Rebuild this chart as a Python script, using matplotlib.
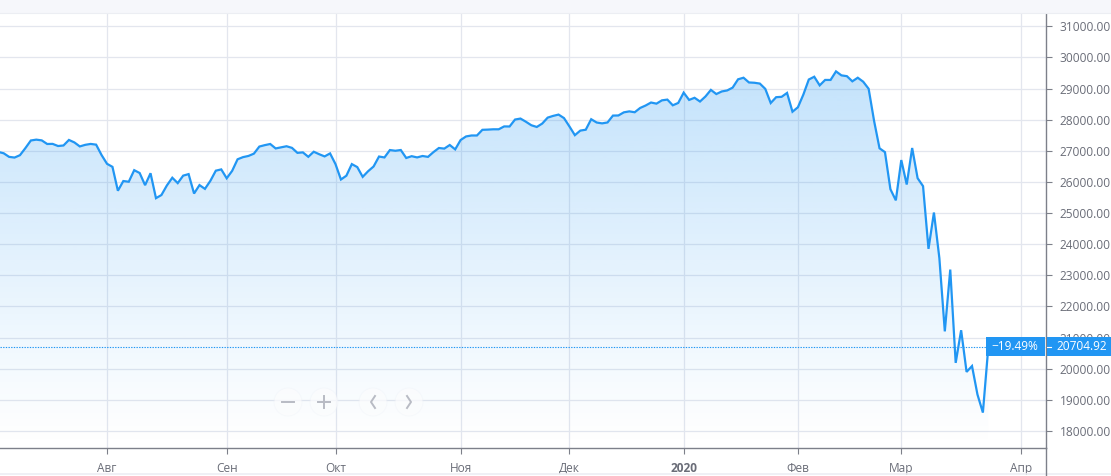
import numpy as np
import pandas as pd
import matplotlib
matplotlib.use('Agg')
import matplotlib.pyplot as plt
from matplotlib.patches import Circle, Rectangle
from matplotlib.transforms import blended_transform_factory

# daily closes, 2019-07-02 .. 2020-03-24
closes = [
    26786.68, 26966.00, 26922.12, 26806.14, 26783.49, 26860.20, 27088.08, 27332.03,
    27359.16, 27335.63, 27219.85, 27222.97, 27154.20, 27171.90, 27349.19, 27269.97,
    27140.98, 27192.45, 27221.35, 27198.02, 26864.27,
    # aug
    26583.42, 26485.01, 25717.74, 26029.52, 26007.07, 26378.19, 26287.44, 25896.44,
    26279.91, 25479.42, 25579.39, 25886.01, 26135.79, 25962.44, 26202.73, 26252.24,
    25628.90, 25898.83, 25777.90, 26036.10, 26362.25, 26403.28,
    # sep
    26118.02, 26355.47, 26728.15, 26797.46, 26835.51, 26909.43, 27137.04, 27182.45,
    27219.52, 27076.82, 27110.80, 27147.08, 27094.79, 26935.07, 26949.99, 26807.77,
    26970.71, 26891.12, 26820.25, 26916.83,
    # oct
    26573.04, 26078.62, 26201.04, 26573.72, 26478.02, 26164.04, 26346.01, 26496.67,
    26816.59, 26787.36, 27024.80, 27001.98, 27025.88, 26770.20, 26827.64, 26788.10,
    26833.95, 26805.53, 26958.06, 27090.72, 27071.42, 27186.69, 27046.23,
    # nov
    27347.36, 27462.11, 27492.63, 27492.56, 27674.80, 27681.24, 27691.49, 27691.49,
    27783.59, 27781.96, 28004.89, 28036.22, 27934.02, 27821.09, 27766.29, 27875.62,
    28066.47, 28121.68, 28164.00, 28051.41,
    # dec
    27783.04, 27502.81, 27649.78, 27677.79, 28015.06, 27909.60, 27881.72, 27911.30,
    28132.05, 28135.38, 28235.89, 28267.16, 28239.28, 28376.96, 28455.09, 28551.53,
    28515.45, 28621.39, 28645.26, 28462.14, 28538.44,
    # jan
    28868.80, 28634.88, 28703.38, 28583.68, 28745.09, 28956.90, 28823.77, 28907.05,
    28939.67, 29030.22, 29297.64, 29348.10, 29196.04, 29186.27, 29160.09, 28989.73,
    28535.80, 28722.85, 28734.45, 28859.44, 28256.03,
    # feb
    28399.81, 28807.63, 29290.85, 29379.77, 29102.51, 29276.82, 29276.34, 29551.42,
    29423.31, 29398.08, 29232.19, 29348.03, 29219.98, 28992.41, 27960.80, 27081.36,
    26957.59, 25766.64, 25409.36,
    # mar
    26703.32, 25917.41, 27090.86, 26121.28, 25864.78, 23851.02, 25018.16, 23553.22,
    21200.62, 23185.62, 20188.52, 21237.38, 19898.92, 20087.19, 19173.98, 18591.93,
    20704.92,
]
change_text = '\u221219.49%'
month_names = ['Авг', 'Сен', 'Окт', 'Ноя', 'Дек', '2020', 'Фев', 'Мар', 'Апр']
price_ticks = list(range(18000, 31001, 1000))

holidays = pd.to_datetime(['2019-07-04', '2019-09-02', '2019-11-28', '2019-12-25',
                           '2020-01-01', '2020-01-20', '2020-02-17'])
days = pd.bdate_range('2019-07-02', '2020-04-06')
days = days[~days.isin(holidays)]
x = np.arange(len(closes))
y = np.array(closes)

# first trading day of each month from aug
month_idx = []
for m in pd.period_range('2019-08', '2020-04', freq='M'):
    month_idx.append(int(np.argmax(days.to_period('M') == m)))

BLUE = '#2196f3'
GRID = '#e3e6ee'
TXT = '#6a6d78'
AX = '#7d808a'
W, H = 1111, 476
YMIN, YMAX = 17464, 31411
PX_PER_UNIT = (476 - 28.3 - 13.5) / (YMAX - YMIN)

plt.rcParams['font.family'] = ['Open Sans', 'DejaVu Sans']
fig = plt.figure(figsize=(W / 100, H / 100), dpi=100)
fig.patch.set_facecolor('white')

ax = fig.add_axes([0, 28.3 / H, 1046 / W, (476 - 28.3 - 13.5) / H])
ax.set_facecolor('white')

ax.set_yticks(price_ticks)
ax.set_yticklabels(['%.2f' % v for v in price_ticks])
ax.yaxis.tick_right()
ax.set_xticks(month_idx)
ax.set_xticklabels(month_names)
for lab in ax.get_xticklabels():
    if lab.get_text() == '2020':
        lab.set_fontweight('bold')
ax.tick_params(axis='y', length=4, width=0.8, color=AX, labelsize=8.6,
               labelcolor=TXT, pad=6)
ax.tick_params(axis='x', length=4, width=0.8, color=AX, labelsize=8.6,
               labelcolor=TXT, pad=6)
for s in ['top', 'left']:
    ax.spines[s].set_visible(False)
for s in ['bottom', 'right']:
    ax.spines[s].set_color(AX)
    ax.spines[s].set_linewidth(1.0)
ax.grid(True, color=GRID, lw=0.9, zorder=0)
ax.set_axisbelow(True)

# gradient area under the line
poly = ax.fill_between(x, y, YMIN, facecolor='none', edgecolor='none')
grad = np.linspace(0, 1, 256).reshape(-1, 1)
rgba = np.zeros((256, 1, 4))
rgba[..., 0], rgba[..., 1], rgba[..., 2] = 33 / 255, 150 / 255, 243 / 255
rgba[..., 3] = 0.27 * grad ** 1.1
im = ax.imshow(rgba, aspect='auto', origin='lower', zorder=1,
               extent=[x[0], x[-1], YMIN, y.max()], interpolation='bilinear')
im.set_clip_path(poly.get_paths()[0], transform=ax.transData)
ax.set_xlim(month_idx[0] - 19.67, month_idx[-1] + 4.6)
ax.set_ylim(YMIN, YMAX)

ax.plot(x, y, color=BLUE, lw=1.6, zorder=3, solid_joinstyle='miter')
ax.axhline(y[-1], color=BLUE, lw=0.8, ls=(0, (1.2, 1.2)), zorder=2)

# last value labels on the right
tr = blended_transform_factory(ax.transAxes, ax.transData)
box_h = 19 / PX_PER_UNIT
ax.add_patch(Rectangle((985.5 / 1046, y[-1] - box_h / 2), 59 / 1046, box_h,
                       transform=tr, fc=BLUE, ec='none', zorder=6, clip_on=False))
ax.add_patch(Rectangle((1046.6 / 1046, y[-1] - box_h / 2), 65 / 1046, box_h,
                       transform=tr, fc=BLUE, ec='none', zorder=6, clip_on=False))
ax.plot([1047 / 1046, 1051 / 1046], [y[-1], y[-1]], transform=tr, color='white',
        lw=0.8, zorder=7, clip_on=False)
ax.text(1015 / 1046, y[-1], change_text, transform=tr, ha='center', va='center',
        color='white', fontsize=8.6, zorder=8)
ax.text(1056.5 / 1046, y[-1], '%.2f' % y[-1], transform=tr, ha='left', va='center',
        color='white', fontsize=8.6, zorder=8, clip_on=False)

# page decorations in pixel coords
ov = fig.add_axes([0, 0, 1, 1], zorder=5)
ov.set_xlim(0, W)
ov.set_ylim(H, 0)
ov.axis('off')
ov.patch.set_alpha(0)
ov.add_patch(Rectangle((0, 0), W, 13, fc='#f6f7fb', ec='none'))
ov.plot([0, W], [13.2, 13.2], color='#eceef3', lw=0.8)
ov.plot([0, W], [474, 474], color='#eceef3', lw=1.2)
ov.plot([1046.2, 1046.2], [447.7, 476], color=AX, lw=1.0)

btn_gray = '#b8bbc4'
for cx in [288, 324, 373, 409]:
    ov.add_patch(Circle((cx, 402), 14.5, fc='#eef2f8', ec='none', alpha=0.35))
    ov.add_patch(Circle((cx, 402), 13.5, fc='white', ec='none', alpha=0.6))
ov.plot([282, 294], [402, 402], color=btn_gray, lw=1.4)
ov.plot([318, 330], [402, 402], color=btn_gray, lw=1.4)
ov.plot([324, 324], [396, 408], color=btn_gray, lw=1.4)
ov.plot([375, 371, 375], [396, 402, 408], color=btn_gray, lw=1.4)
ov.plot([407, 411, 407], [396, 402, 408], color=btn_gray, lw=1.4)

fig.savefig('out.png', dpi=100)
